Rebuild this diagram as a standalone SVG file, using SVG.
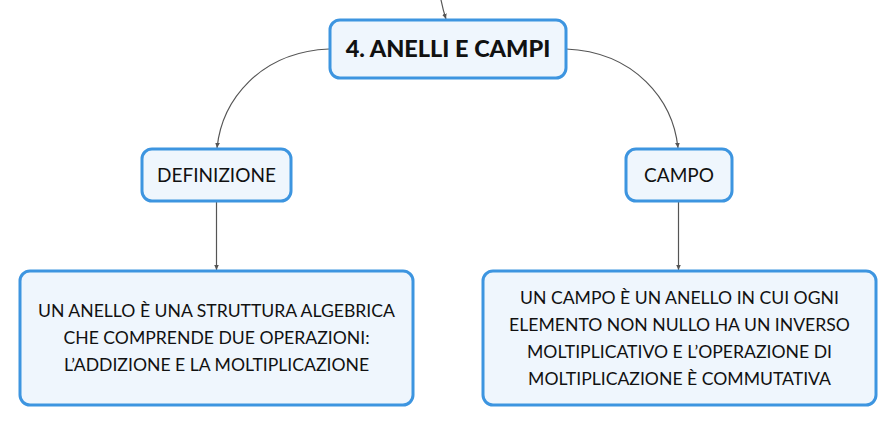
<svg xmlns="http://www.w3.org/2000/svg" width="896" height="426" viewBox="0 0 896 426">
<defs>
<style>
.box{fill:#eff6fd;stroke:#3d95e0;stroke-width:3}
.t{font-family:Lato,"Noto Sans",sans-serif;font-size:17.6px;fill:#111;text-anchor:middle}
.n{font-family:Lato,"Noto Sans",sans-serif;font-size:19px;fill:#111;text-anchor:middle}
.main{font-family:Lato,"Noto Sans",sans-serif;font-size:23.5px;font-weight:900;fill:#111;text-anchor:middle}
.c{fill:none;stroke:#555;stroke-width:1.2}
</style>
<marker id="ah" viewBox="0 0 8 8" refX="7" refY="4" markerWidth="6" markerHeight="6" orient="auto" markerUnits="userSpaceOnUse">
<path d="M0,0.8 L7,4 L0,7.2 Z" fill="#555"/>
</marker>
</defs>
<rect width="896" height="426" fill="#fff"/>
<g id="connectors">
<path class="c" d="M441,0 Q443,10 446,19" marker-end="url(#ah)"/>
<path class="c" d="M329,49 C260,52 222,100 217,148" marker-end="url(#ah)"/>
<path class="c" d="M566,49 C635,52 673,100 678,148" marker-end="url(#ah)"/>
<path class="c" d="M216.5,202 L216.5,270" marker-end="url(#ah)"/>
<path class="c" d="M678.5,202 L678.5,270" marker-end="url(#ah)"/>
</g>
<g id="main">
<rect class="box" x="330" y="20" width="236" height="58" rx="10"/>
<text class="main" x="448" y="56.5">4. ANELLI E CAMPI</text>
</g>
<g id="definizione">
<rect class="box" x="142" y="149" width="149" height="52" rx="10"/>
<text class="n" x="216.5" y="182">DEFINIZIONE</text>
</g>
<g id="campo">
<rect class="box" x="626" y="149" width="106" height="52" rx="10"/>
<text class="n" x="679" y="182">CAMPO</text>
</g>
<g id="anello">
<rect class="box" x="20" y="271" width="393" height="134" rx="10"/>
<text class="t" x="216.5" y="317">UN ANELLO È UNA STRUTTURA ALGEBRICA</text>
<text class="t" x="216.5" y="344">CHE COMPRENDE DUE OPERAZIONI:</text>
<text class="t" x="216.5" y="371">L’ADDIZIONE E LA MOLTIPLICAZIONE</text>
</g>
<g id="campodef">
<rect class="box" x="483" y="271" width="393" height="134" rx="10"/>
<text class="t" x="679.5" y="304">UN CAMPO È UN ANELLO IN CUI OGNI</text>
<text class="t" x="679.5" y="331">ELEMENTO NON NULLO HA UN INVERSO</text>
<text class="t" x="679.5" y="358">MOLTIPLICATIVO E L’OPERAZIONE DI</text>
<text class="t" x="679.5" y="385">MOLTIPLICAZIONE È COMMUTATIVA</text>
</g>
</svg>
